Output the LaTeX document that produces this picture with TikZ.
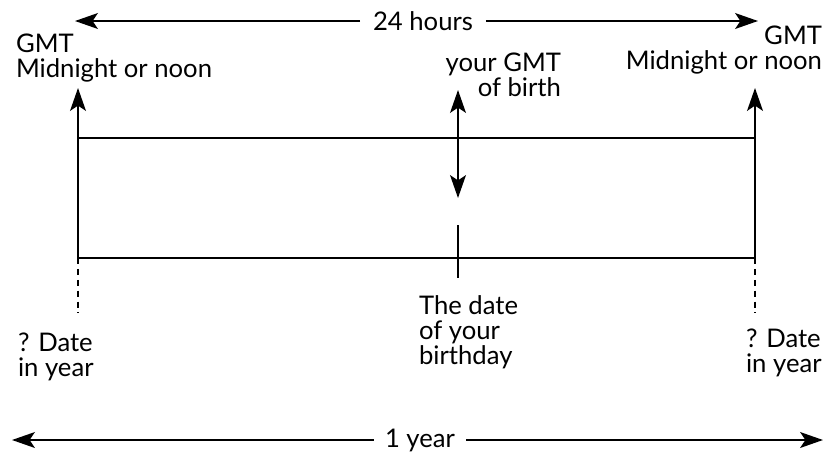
\documentclass[tikz,border=0pt]{standalone}
\usepackage{fontspec}
\setmainfont{Lato}
\usetikzlibrary{arrows.meta}

\begin{document}
\begin{tikzpicture}[x=0.02cm,y=-0.02cm,line width=1.2pt,
  tip/.style={-{Stealth[length=13pt,width=9pt,inset=3pt]}},
  twotip/.style={{Stealth[length=13pt,width=9pt,inset=3pt]}-{Stealth[length=13pt,width=9pt,inset=3pt]}},
  lbl/.style={inner sep=0pt,font=\fontsize{14.6}{14.2}\selectfont},
  span/.style={inner xsep=0.24cm,inner ysep=0pt,font=\fontsize{14.6}{14.2}\selectfont}]
\useasboundingbox (0,0) rectangle (825,457);

% Box of the day
\coordinate (tl) at (78,138);
\coordinate (tr) at (755,138);
\coordinate (bl) at (78,258);
\coordinate (br) at (755,258);
\draw (tl) -- (tr) -- (br) -- (bl) -- cycle;

% Midnight or noon arrows
\coordinate (gmtL) at (78,88);
\coordinate (gmtR) at (755,88);
\draw[tip] (tl) -- (gmtL);
\draw[tip] (tr) -- (gmtR);
\node[lbl,anchor=north west,align=left] (noonL) at (15,33) {GMT\\Midnight or noon};
\node[lbl,anchor=north east,align=right] (noonR) at (823,25) {GMT\\Midnight or noon};

% 24 hours
\coordinate (dayL) at (75,21);
\coordinate (dayR) at (758,21);
\node[span] (hours) at (423,21) {24 hours};
\draw[tip] (hours) -- (dayL);
\draw[tip] (hours) -- (dayR);

% Time of birth
\coordinate (birthT) at (458,90);
\coordinate (birthB) at (458,198);
\draw[twotip] (birthT) -- (birthB);
\node[lbl,anchor=north east,align=right] (birth) at (562,52) {your GMT\\of birth};

% Birthday tick
\coordinate (tickT) at (458,225);
\coordinate (tickB) at (458,278);
\draw (tickT) -- (tickB);
\node[lbl,anchor=north west,align=left] (bday) at (418,295) {The date\\of your\\birthday};

% Dates in the year
\coordinate (dashL) at (78,313);
\coordinate (dashR) at (755,313);
\draw[dash pattern=on 3.6pt off 2.6pt] (bl) -- (dashL);
\draw[dash pattern=on 3.6pt off 2.6pt] (br) -- (dashR);
\node[lbl,anchor=north west,align=left] (dateL) at (17,332) {? Date\\in year};
\node[lbl,anchor=north west,align=left] (dateR) at (745,328) {? Date\\in year};

% 1 year
\coordinate (yearL) at (12,440);
\coordinate (yearR) at (823,440);
\node[span,inner xsep=0.2cm] (year) at (420,440) {1 year};
\draw[tip] (year) -- (yearL);
\draw[tip] (year) -- (yearR);

\end{tikzpicture}
\end{document}
